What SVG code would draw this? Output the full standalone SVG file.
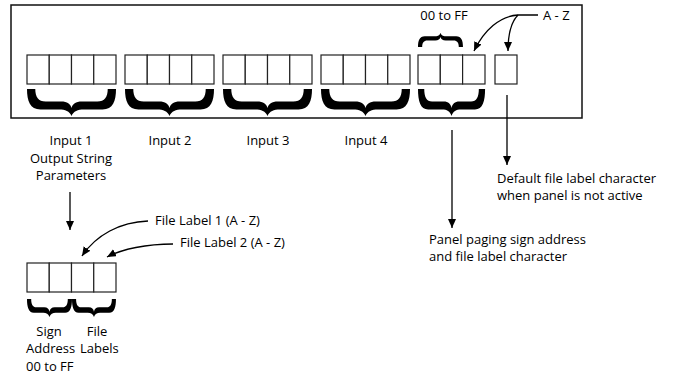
<svg xmlns="http://www.w3.org/2000/svg" xmlns:xlink="http://www.w3.org/1999/xlink" width="674" height="378" viewBox="0 0 674 378">
<style>
text{font-family:"Open Sans","Liberation Sans",sans-serif;font-size:13px;fill:#000}
.c{fill:#fff;stroke:#222;stroke-width:1.2}
.ln{fill:none;stroke:#000;stroke-width:1.3}
.br{fill:#000}
.m{text-anchor:middle}
</style>
<defs>
<marker id="ah" markerUnits="userSpaceOnUse" markerWidth="10" markerHeight="9" refX="9" refY="4" orient="auto">
<path d="M0,0 L9,4 L0,8 Z" fill="#000"/>
</marker>
<path id="brace" d="M0,0 C0,12 3,20.5 13,20.5 L31,20.5 C37,20.5 41,22 43,27 C45,22 49,20.5 55,20.5 L73,20.5 C83,20.5 86,12 86,0 L78,0 C78,8 75,12.5 68,12.5 L53,12.5 C47,12.5 44,15 43,19 C42,15 39,12.5 33,12.5 L18,12.5 C11,12.5 8,8 8,0 Z"/>
<g id="cells4">
<rect class="c" x="0" y="0" width="22.25" height="29"/>
<rect class="c" x="22.25" y="0" width="22.25" height="29"/>
<rect class="c" x="44.5" y="0" width="22.25" height="29"/>
<rect class="c" x="66.75" y="0" width="22.25" height="29"/>
</g>
</defs>

<g id="panel">
<rect x="11" y="5" width="571" height="113" fill="#fff" stroke="#111" stroke-width="1.5"/>
</g>

<g id="input1">
<use xlink:href="#cells4" x="27" y="55"/>
<use xlink:href="#brace" class="br" transform="translate(27,89) scale(1.035,1)"/>
<text class="m" x="71" y="145">Input 1</text>
<text class="m" x="71" y="163">Output String</text>
<text class="m" x="71" y="180">Parameters</text>
</g>
<g id="input2">
<use xlink:href="#cells4" x="125" y="55"/>
<use xlink:href="#brace" class="br" transform="translate(125,89) scale(1.035,1)"/>
<text class="m" x="170" y="145">Input 2</text>
</g>
<g id="input3">
<use xlink:href="#cells4" x="223" y="55"/>
<use xlink:href="#brace" class="br" transform="translate(223,89) scale(1.035,1)"/>
<text class="m" x="268" y="145">Input 3</text>
</g>
<g id="input4">
<use xlink:href="#cells4" x="321" y="55"/>
<use xlink:href="#brace" class="br" transform="translate(321,89) scale(1.035,1)"/>
<text class="m" x="366" y="145">Input 4</text>
</g>
<g id="paging">
<rect class="c" x="418" y="55" width="22.3" height="29"/>
<rect class="c" x="440.3" y="55" width="22.3" height="29"/>
<rect class="c" x="462.6" y="55" width="22.4" height="29"/>
<use xlink:href="#brace" class="br" transform="translate(418,89) scale(0.78,1)"/>
<use xlink:href="#brace" class="br" transform="translate(418,47) scale(0.523,-0.52)"/>
<text class="m" x="444" y="20">00 to FF</text>
<text x="429" y="244">Panel paging sign address</text>
<text x="429" y="261">and file label character</text>
</g>
<g id="default">
<rect class="c" x="495" y="55" width="22" height="29"/>
<text x="543" y="20">A - Z</text>
<text x="497" y="183">Default file label character</text>
<text x="497" y="200">when panel is not active</text>
</g>
<g id="output">
<use xlink:href="#cells4" x="27" y="263"/>
<use xlink:href="#brace" class="br" transform="translate(27,299) scale(0.523,0.667)"/>
<use xlink:href="#brace" class="br" transform="translate(72,299) scale(0.511,0.667)"/>
<text class="m" x="49" y="336">Sign</text>
<text x="26" y="353">Address</text>
<text x="26" y="371">00 to FF</text>
<text class="m" x="97" y="336">File</text>
<text x="80" y="353">Labels</text>
<text x="155" y="225">File Label 1 (A - Z)</text>
<text x="180" y="247">File Label 2 (A - Z)</text>
</g>

<g id="connectors">
<path class="ln" d="M538,15 L518,15 C500,16 484,30 474,51" marker-end="url(#ah)"/>
<path class="ln" d="M518,15 C511,22 508,35 508,51" marker-end="url(#ah)"/>
<path class="ln" d="M507,95 L507,165" marker-end="url(#ah)"/>
<path class="ln" d="M452,130 L452,228" marker-end="url(#ah)"/>
<path class="ln" d="M70,192 L70,230" marker-end="url(#ah)"/>
<path class="ln" d="M148,221 C120,222 96,235 82,256" marker-end="url(#ah)"/>
<path class="ln" d="M173,244 C147,244 122,249 107,257" marker-end="url(#ah)"/>
</g>
</svg>
